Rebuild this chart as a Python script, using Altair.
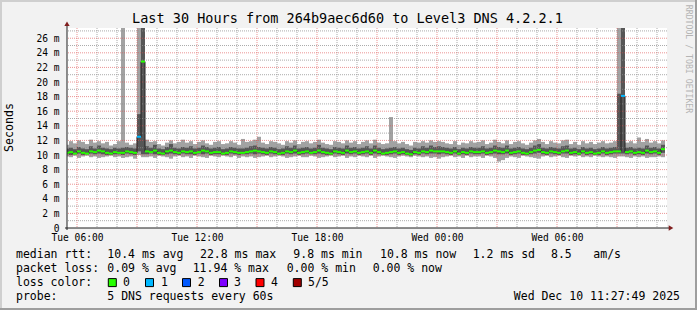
import altair as alt
import pandas as pd

# ---------------- data (ms) ----------------
bar_start = "2025-12-09 05:24:00"   # 12-minute consolidation steps
n_bars = 150

rtt_min = [9.8,9.7,9.9,9.6,9.8,9.9,9.7,9.8,9.6,9.7,
           9.8,9.9,9.7,9.8,9.6,9.7,9.8,9.5,10.0,9.7,
           9.7,9.8,9.6,9.9,9.8,9.7,9.5,9.8,9.9,9.7,
           9.8,9.6,9.9,9.8,9.7,9.6,9.9,9.8,9.7,9.9,
           9.8,9.7,9.9,9.6,9.8,9.7,9.8,9.6,9.7,9.8,
           9.9,9.7,9.8,9.9,9.8,9.6,9.7,9.8,9.9,9.7,
           9.7,9.9,9.8,9.6,9.7,9.8,9.9,9.7,9.8,9.9,
           9.6,9.8,9.7,9.9,9.8,9.7,9.9,9.6,9.8,9.9,
           9.8,9.7,9.6,9.8,9.9,9.8,9.7,9.9,9.8,9.7,
           9.8,9.6,9.7,9.5,9.7,9.8,9.9,9.7,9.8,9.6,
           9.9,9.7,9.8,9.8,9.6,9.9,9.8,9.6,9.1,9.3,
           9.6,9.8,9.7,9.6,9.9,9.8,9.7,9.6,9.5,9.8,
           9.9,9.7,9.8,9.9,9.7,9.6,9.9,9.8,9.9,9.7,
           9.8,9.7,9.9,9.8,9.7,9.8,9.7,9.6,9.8,9.8,
           9.7,9.6,9.8,9.7,9.8,9.6,9.7,9.7,9.8,9.7]

rtt_p2 = [10.1,10.0,10.1,10.2,10.0,10.1,10.2,10.1,10.2,10.1,
          10.0,10.0,10.1,10.1,10.0,10.2,10.1,10.0,10.5,10.1,
          10.1,10.2,10.1,10.0,10.0,10.1,10.2,10.1,10.0,10.2,
          10.1,10.1,10.0,10.2,10.1,10.2,10.0,10.1,10.1,10.0,
          10.0,10.2,10.1,10.0,10.1,10.1,10.2,10.1,10.2,10.1,
          10.0,10.2,10.1,10.0,10.0,10.2,10.1,10.2,10.0,10.1,
          10.2,10.1,10.1,10.2,10.1,10.0,10.0,10.2,10.1,10.0,
          10.2,10.1,10.2,10.0,10.1,10.2,10.0,10.2,10.1,10.0,
          10.0,10.1,10.2,10.0,10.1,10.0,9.9,10.1,10.0,10.2,
          10.1,10.2,10.2,10.1,10.2,10.1,10.0,10.2,10.0,10.1,
          10.0,10.2,10.1,10.1,10.2,10.0,10.1,10.2,10.1,10.1,
          10.2,10.0,10.1,10.2,10.0,10.0,10.1,10.2,10.3,10.1,
          10.0,10.2,10.1,10.0,10.2,10.2,10.0,10.1,10.0,10.2,
          10.0,10.1,10.0,10.0,10.2,10.0,10.1,10.2,10.2,10.2,
          10.1,10.2,10.0,10.1,10.0,10.2,10.1,10.2,10.0,10.3]

rtt_median = [10.3,10.4,10.2,10.5,10.3,10.2,10.5,10.4,10.6,10.5,
              10.3,10.2,10.4,10.3,10.3,10.5,10.4,10.3,12.5,22.8,
              10.5,10.4,10.6,10.3,10.2,10.5,10.6,10.4,10.3,10.5,
              10.4,10.5,10.3,10.4,10.6,10.5,10.3,10.4,10.4,10.2,
              10.3,10.5,10.4,10.3,10.3,10.4,10.5,10.6,10.5,10.4,
              10.3,10.5,10.4,10.2,10.3,10.5,10.4,10.6,10.3,10.4,
              10.5,10.3,10.4,10.6,10.4,10.3,10.2,10.5,10.4,10.3,
              10.6,10.4,10.5,10.3,10.4,10.5,10.3,10.6,10.4,10.2,
              10.3,10.4,10.5,10.3,10.4,10.2,10.1,10.4,10.3,10.5,
              10.4,10.6,10.5,10.5,10.5,10.4,10.3,10.5,10.2,10.4,
              10.3,10.5,10.4,10.4,10.5,10.3,10.4,10.6,10.5,10.4,
              10.6,10.3,10.4,10.5,10.3,10.2,10.4,10.6,10.7,10.4,
              10.3,10.5,10.4,10.3,10.5,10.6,10.3,10.4,10.2,10.5,
              10.3,10.4,10.2,10.3,10.5,10.3,10.4,10.5,10.5,18.1,
              10.4,10.5,10.3,10.4,10.3,10.6,10.4,10.5,10.3,10.8]

rtt_p4 = [10.9,11.0,10.8,11.1,10.9,10.8,11.2,10.9,11.3,11.0,
          10.9,10.8,11.0,10.9,11.0,11.1,11.0,10.9,15.6,30.0,
          11.2,11.0,11.4,10.9,10.8,11.1,11.5,11.0,10.9,11.1,
          11.0,11.2,10.9,11.0,11.3,11.1,10.9,11.0,11.1,10.8,
          10.9,11.1,11.0,10.9,10.9,11.0,11.2,11.3,11.1,11.0,
          10.9,11.1,11.0,10.8,10.9,11.2,11.0,11.3,10.9,11.0,
          11.1,10.9,11.0,11.4,11.0,10.9,10.8,11.1,11.0,10.9,
          11.3,11.0,11.1,10.9,11.0,11.2,10.9,11.3,11.0,10.8,
          10.9,11.0,11.1,10.9,11.0,10.8,10.7,11.0,10.9,11.2,
          11.0,11.3,11.1,11.2,11.1,11.0,10.9,11.1,10.8,11.0,
          10.9,11.1,11.0,11.0,11.2,10.9,11.0,11.3,11.1,11.0,
          11.3,10.9,11.0,11.1,10.9,10.8,11.0,11.3,11.5,11.0,
          10.9,11.1,11.0,10.9,11.2,11.3,10.9,11.0,10.8,11.1,
          10.9,11.0,10.8,10.9,11.1,10.9,11.0,11.1,18.4,30.0,
          11.0,11.1,10.9,11.0,10.9,11.3,11.0,11.1,10.9,11.4]

rtt_max = [11.4,11.9,11.6,12.0,11.8,11.5,12.1,11.7,11.9,11.6,
           11.8,11.3,11.5,11.9,30.0,11.7,11.4,11.6,30.0,30.0,
           12.1,11.8,11.9,11.5,11.3,11.7,12.0,11.6,11.8,12.1,
           11.7,11.9,11.5,11.8,12.0,11.6,11.4,11.8,11.9,11.5,
           11.6,11.9,11.7,11.4,12.2,11.8,11.9,12.1,12.5,11.7,
           11.5,11.9,11.8,11.6,11.4,11.9,11.7,12.0,11.5,11.8,
           11.9,11.6,11.8,12.1,11.7,11.5,11.4,11.9,11.8,11.6,
           12.0,11.7,11.9,11.5,11.8,12.0,11.6,12.1,11.7,11.5,
           11.6,15.2,11.9,11.6,11.8,11.5,11.3,11.8,11.7,11.9,
           11.7,12.0,11.8,11.9,11.8,11.6,11.5,11.9,11.4,11.7,
           11.6,11.9,11.7,11.8,12.0,11.5,11.7,12.1,11.8,11.6,
           12.0,11.5,11.8,11.9,11.6,11.4,11.7,12.0,12.2,11.8,
           11.5,11.9,11.7,11.6,12.0,12.1,11.5,11.8,11.4,11.9,
           11.6,11.8,11.5,11.7,11.9,11.6,11.7,11.9,30.0,30.0,
           11.7,11.9,11.6,12.4,11.8,12.2,11.7,11.9,11.6,12.0]

# lost pings per step (most 0)
loss = [0]*n_bars
loss[18] = 1
loss[139] = 1

loss_labels = ["0", "1", "2", "3", "4", "5/5"]
loss_colors = ["#26ff00", "#00b8ff", "#0059ff", "#7e00ff", "#ff0000", "#a10000"]

x_labels = ["2025-12-09T06:00:00Z", "2025-12-09T12:00:00Z", "2025-12-09T18:00:00Z",
            "2025-12-10T00:00:00Z", "2025-12-10T06:00:00Z"]
y_label_values = [0, 2, 4, 6, 8, 10, 12, 14, 16, 18, 20, 22, 24, 26]

title_text = "Last 30 Hours from 264b9aec6d60 to Level3 DNS 4.2.2.1"
line1 = [("median rtt:", -51), ("10.4 ms avg", 40.3), ("22.8 ms max", 133),
         ("9.8 ms min", 226.3), ("10.8 ms now", 313), ("1.2 ms sd", 405.7),
         ("8.5", 484), ("am/s", 526.3)]
line2 = [("packet loss:", -51), ("0.09 % avg", 40.3), ("11.94 % max", 125.7),
         ("0.00 % min", 219.7), ("0.00 % now", 305.7)]
line4 = [("probe:", -51), ("5 DNS requests every 60s", 40.3)]
stamp = "Wed Dec 10 11:27:49 2025"

# ---------------- tables ----------------
starts = pd.date_range(bar_start, periods=n_bars, freq="12min")
ends = starts + pd.Timedelta(minutes=12)
fmt = "%Y-%m-%dT%H:%M:%SZ"
df = pd.DataFrame({
    "t": [s.strftime(fmt) for s in starts],
    "t2": [e.strftime(fmt) for e in ends],
    "mn": rtt_min, "p2": rtt_p2, "med": rtt_median, "p4": rtt_p4, "mx": rtt_max,
    "loss": [loss_labels[v] for v in loss],
})

hours = pd.date_range("2025-12-09 06:00:00", "2025-12-10 11:00:00", freq="1h")
vgrid = pd.DataFrame({"t": [h.strftime(fmt) for h in hours],
                      "major": [h.hour % 3 == 0 for h in hours]})
hgrid = pd.DataFrame({"v": list(range(1, 28))})
hgrid["major"] = hgrid["v"] % 2 == 0
one = pd.DataFrame({"k": [0]})

FONT = "DejaVu Sans Mono"
W, H = 600, 200

xs = alt.Scale(type="utc",
               domain=[alt.DateTime(year=2025, month=12, date=9, hours=5, minutes=30, utc=True),
                       alt.DateTime(year=2025, month=12, date=10, hours=11, minutes=30, utc=True)])
ys = alt.Scale(domain=[0, 27.4], nice=False, zero=False)

xaxis = alt.Axis(values=x_labels, labelExpr="utcFormat(datum.value, '%a %H:%M')",
                 grid=False, domain=False, ticks=False, tickSize=0, labelPadding=4,
                 labelFont=FONT, labelFontSize=9.6, labelColor="#000000",
                 labelFlush=False, labelOverlap=False, title=None)
yaxis = alt.Axis(values=y_label_values,
                 labelExpr="datum.value == 0 ? '0' : datum.value + ' m'",
                 grid=False, domain=False, ticks=False, tickSize=0, labelPadding=8,
                 labelFont=FONT, labelFontSize=9.6, labelColor="#000000",
                 labelFlush=False, labelOverlap=False, title=None)

X = lambda f: alt.X(f"{f}:T", scale=xs, axis=xaxis)
Y = lambda f: alt.Y(f"{f}:Q", scale=ys, axis=yaxis)

base = alt.Chart(df)
smoke_light = base.mark_rect(color="#a2a2a2", clip=True).encode(
    x=X("t"), x2="t2", y=Y("mn"), y2="mx")
smoke_dark = base.mark_rect(color="#565656", clip=True).encode(
    x=X("t"), x2="t2", y=Y("p2"), y2="p4")

vg = alt.Chart(vgrid).mark_rule(strokeWidth=1, strokeDash=[1, 1]).encode(
    x=X("t"),
    color=alt.condition("datum.major", alt.value("rgba(222,79,79,0.6)"),
                        alt.value("rgba(143,143,143,0.75)")))
hg = alt.Chart(hgrid).mark_rule(strokeWidth=1, strokeDash=[1, 1]).encode(
    y=Y("v"),
    color=alt.condition("datum.major", alt.value("rgba(222,79,79,0.6)"),
                        alt.value("rgba(143,143,143,0.75)")))

med_line = base.mark_line(interpolate="step-after", color="#202020",
                          strokeWidth=1, clip=True).encode(x=X("t"), y=Y("med"))
med_seg = base.mark_rule(strokeWidth=2, strokeCap="butt", clip=True).encode(
    x=X("t"), x2="t2", y=Y("med"),
    color=alt.Color("loss:N", scale=alt.Scale(domain=loss_labels, range=loss_colors),
                    legend=None))

layers = [smoke_light, smoke_dark, vg, hg, med_line, med_seg]

# axes lines and arrows
ann = alt.Chart(one)
layers.append(ann.mark_rule(color="#1f1f1f", strokeWidth=1).encode(
    x=alt.value(0), y=alt.value(-3), y2=alt.value(202)))
layers.append(ann.mark_rule(color="#1f1f1f", strokeWidth=1).encode(
    x=alt.value(-2), x2=alt.value(602), y=alt.value(200)))
layers.append(ann.mark_point(shape="triangle-up", filled=True, size=28, opacity=1,
                             color="#801f1f").encode(x=alt.value(0), y=alt.value(-4.3)))
layers.append(ann.mark_point(shape="triangle-right", filled=True, size=28, opacity=1,
                             color="#801f1f").encode(x=alt.value(604), y=alt.value(200)))

# frame (3D border)
layers.append(ann.mark_rule(color="#cfcfcf", strokeWidth=2).encode(
    x=alt.value(-67), x2=alt.value(630), y=alt.value(-27)))
layers.append(ann.mark_rule(color="#cfcfcf", strokeWidth=2).encode(
    x=alt.value(-66), y=alt.value(-28), y2=alt.value(282)))
layers.append(ann.mark_rule(color="#9e9e9e", strokeWidth=2).encode(
    x=alt.value(-67), x2=alt.value(630), y=alt.value(281)))
layers.append(ann.mark_rule(color="#9e9e9e", strokeWidth=2).encode(
    x=alt.value(629), y=alt.value(-28), y2=alt.value(282)))

# title, y title, watermark
layers.append(ann.mark_text(text=title_text, font=FONT, fontSize=13.5, color="#000000",
                            align="center", baseline="middle").encode(
    x=alt.value(280.5), y=alt.value(-9)))
layers.append(ann.mark_text(text="Seconds", font=FONT, fontSize=11.6, color="#000000",
                            align="center", baseline="middle", angle=270).encode(
    x=alt.value(-56.7), y=alt.value(99.5)))
layers.append(ann.mark_text(text="RRDTOOL / TOBI OETIKER", font=FONT, fontSize=8.2,
                            color="#b4b4b4", align="center", baseline="middle",
                            angle=90).encode(x=alt.value(620.7), y=alt.value(31)))

# legend text lines
def txt(s, x, y, align="left"):
    return ann.mark_text(text=s, font=FONT, fontSize=11.5, color="#000000",
                         align=align, baseline="middle").encode(
        x=alt.value(x), y=alt.value(y))

for s, x in line1:
    layers.append(txt(s, x, 226.5))
for s, x in line2:
    layers.append(txt(s, x, 240.5))
layers.append(txt("loss color:", -51, 254.5))
sq_x = [45.3, 82.5, 119.5, 156.5, 193, 230.3]
lb_x = [56, 94, 130.7, 167, 204, 241]
for lbl, col, sx, lx in zip(loss_labels, loss_colors, sq_x, lb_x):
    layers.append(ann.mark_square(size=64, filled=True, opacity=1, color=col,
                                  stroke="#000000", strokeWidth=1).encode(
        x=alt.value(sx), y=alt.value(254.6)))
    layers.append(txt(lbl, lx, 254.5))
for s, x in line4:
    layers.append(txt(s, x, 268.8))
layers.append(txt(stamp, 613, 268.8, align="right"))

chart = alt.layer(*layers).properties(
    width=W, height=H,
    autosize=alt.AutoSizeParams(type="none"),
    padding={"left": 67, "top": 28, "right": 30, "bottom": 82},
).configure(background="#f2f2f2").configure_view(fill="#ffffff", strokeWidth=0)

chart.save("out.html", embed_options={"renderer": "svg", "actions": False})
